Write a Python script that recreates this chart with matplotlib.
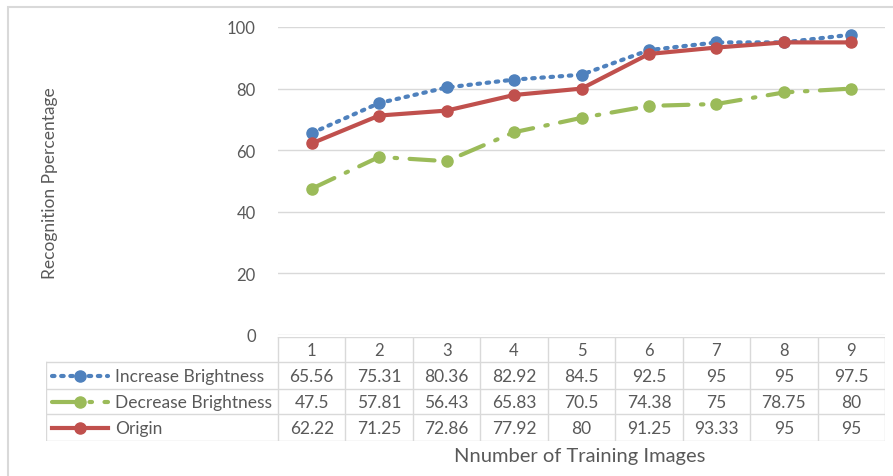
import matplotlib.pyplot as plt
from matplotlib.lines import Line2D
from matplotlib.patches import Rectangle

plt.rcParams['font.family'] = ['Lato', 'DejaVu Sans']

categories = ['1', '2', '3', '4', '5', '6', '7', '8', '9']
increase = [65.56, 75.31, 80.36, 82.92, 84.5, 92.5, 95, 95, 97.5]
decrease = [47.5, 57.81, 56.43, 65.83, 70.5, 74.38, 75, 78.75, 80]
origin = [62.22, 71.25, 72.86, 77.92, 80, 91.25, 93.33, 95, 95]
series_names = ['Increase Brightness', 'Decrease Brightness', 'Origin']
yticks = [0, 20, 40, 60, 80, 100]

W, H = 893, 477
txt = '#595959'
grid_c = '#D9D9D9'

fig = plt.figure(figsize=(W / 100, H / 100), dpi=100)

def px(x0, y0, x1, y1):
    # pixel box (top-left origin) -> figure fraction
    return [x0 / W, 1 - y1 / H, (x1 - x0) / W, (y1 - y0) / H]

# outer chart border (cut off at right and bottom like the screenshot)
fig.patches.append(Rectangle((8 / W, -0.1), 2, 1.1 - 8 / H, transform=fig.transFigure,
                             fill=False, edgecolor=grid_c, linewidth=1.5))

ax = fig.add_axes(px(278, 28, 885, 336))
x = list(range(1, len(categories) + 1))

styles = [
    dict(color='#4F81BD', linestyle=(0, (0.6, 1.6)), dash_capstyle='round', linewidth=3),
    dict(color='#9BBB59', linestyle=(0, (6, 3, 0.6, 3)), dash_capstyle='round', linewidth=3),
    dict(color='#C0504D', linestyle='-', linewidth=3),
]
for vals, st in zip([increase, decrease, origin], styles):
    ax.plot(x, vals, marker='o', markersize=8, **st)

ax.set_xlim(0.5, len(categories) + 0.5)
ax.set_ylim(0, 100)
ax.set_yticks(yticks)
ax.set_xticks([])
ax.grid(axis='y', color=grid_c, linewidth=1)
ax.set_axisbelow(True)
for s in ax.spines.values():
    s.set_visible(False)
ax.tick_params(axis='y', length=0, pad=16, labelsize=12, labelcolor=txt)

# data table
tab = fig.add_axes(px(46, 338, 885, 442))
tab.set_xlim(46, 885)
tab.set_ylim(442, 338)
tab.axis('off')
rows = [338, 363, 390, 415, 442]
col_w = (885 - 278) / len(categories)
cols = [278 + i * col_w for i in range(len(categories) + 1)]
lc = '#D9D9D9'
tab.plot([278, 885], [rows[0], rows[0]], color=lc, lw=1)
for r in rows[1:]:
    tab.plot([46, 885], [r, r], color=lc, lw=1)
tab.plot([46, 46], [rows[1], rows[-1]], color=lc, lw=1)
for c in cols:
    tab.plot([c, c], [rows[0], rows[-1]], color=lc, lw=1)

for i, cat in enumerate(categories):
    tab.text((cols[i] + cols[i + 1]) / 2, (rows[0] + rows[1]) / 2 + 1, cat,
             ha='center', va='center', fontsize=12, color=txt)
for r, (name, vals, st) in enumerate(zip(series_names, [increase, decrease, origin], styles)):
    yc = (rows[r + 1] + rows[r + 2]) / 2
    tab.add_line(Line2D([52, 108], [yc, yc], **st))
    tab.plot([80], [yc], marker='o', markersize=8, color=st['color'], linestyle='none')
    tab.text(115, yc + 1, name, ha='left', va='center', fontsize=12.5, color=txt)
    for i, v in enumerate(vals):
        tab.text((cols[i] + cols[i + 1]) / 2, yc + 1, f'{v:g}',
                 ha='center', va='center', fontsize=12.5, color=txt)

fig.text(50 / W, 1 - 183 / H, 'Recognition Ppercentage', rotation=90,
         ha='center', va='center', fontsize=12.5, color=txt)
fig.text(580 / W, 1 - 457 / H, 'Nnumber of Training Images',
         ha='center', va='center', fontsize=14.5, color=txt)

fig.savefig('out.png', dpi=100, facecolor='white')
